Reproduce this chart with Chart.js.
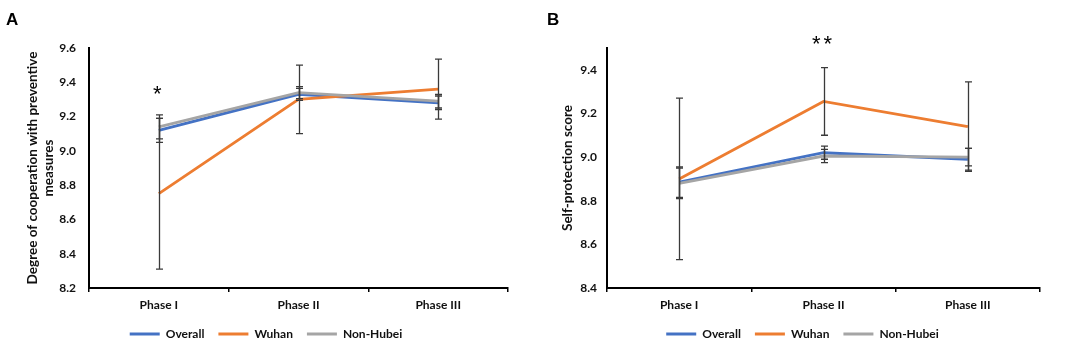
<!DOCTYPE html>
<html><head><meta charset="utf-8">
<script src="https://cdn.jsdelivr.net/npm/chart.js@4"></script>
<style>
html,body{margin:0;padding:0;background:#fff;overflow:hidden;}
#wrap{position:relative;width:1084px;height:343px;overflow:hidden;background:#fff;}
.panel{position:absolute;top:0;height:350px;}
#pa{left:0;width:540px;}
#pb{left:540px;width:544px;}
.lbl{position:absolute;font:bold 17px "Liberation Sans",Arial,sans-serif;color:#000;line-height:1;}
</style></head><body>
<div id="wrap">
<div class="panel" id="pa"><canvas id="ca"></canvas></div>
<div class="panel" id="pb"><canvas id="cb"></canvas></div>
<div class="lbl" style="left:6px;top:11px">A</div>
<div class="lbl" style="left:547px;top:11px">B</div>
</div>
<script>
// ---- data ----
const categories = ['Phase I', 'Phase II', 'Phase III'];
const seriesNames = ['Overall', 'Wuhan', 'Non-Hubei'];

// Panel A: Degree of cooperation with preventive measures
const overallA  = [9.12, 9.33, 9.28];
const wuhanA    = [8.75, 9.30, 9.36];
const nonHubeiA = [9.14, 9.34, 9.29];
const overallErrA  = [0.07, 0.035, 0.04];
const wuhanErrA    = [0.44, 0.20, 0.175];
const nonHubeiErrA = [0.07, 0.035, 0.04];
const yTicksA = [8.2, 8.4, 8.6, 8.8, 9.0, 9.2, 9.4, 9.6];

// Panel B: Self-protection score
const overallB  = [8.885, 9.02, 8.99];
const wuhanB    = [8.90, 9.255, 9.14];
const nonHubeiB = [8.88, 9.005, 9.00];
const overallErrB  = [0.07, 0.03, 0.05];
const wuhanErrB    = [0.37, 0.155, 0.205];
const nonHubeiErrB = [0.07, 0.03, 0.04];
const yTicksB = [8.4, 8.6, 8.8, 9.0, 9.2, 9.4];

// significance marks
const marksA = [{text: '*', index: 0, value: 9.355}];
const marksB = [{text: '**', index: 1, value: 9.537}];

const COLORS = ['#4472C4', '#ED7D31', '#A5A5A5'];
const FONT = {family: 'Lato, "Open Sans", sans-serif', size: 12, weight: 'bold'};
const TITLE_FONT = {family: 'Lato, "Open Sans", sans-serif', size: 13.5, weight: 'bold', lineHeight: 1.24};
const TEXT = '#111';

const errorBarPlugin = {
  id: 'errorBars',
  afterDatasetsDraw(chart, args, opts) {
    const {ctx, scales: {x, y}} = chart;
    ctx.save();
    ctx.strokeStyle = opts.color;
    ctx.lineWidth = opts.width;
    opts.errors.forEach((errs, di) => {
      const ds = chart.data.datasets[di];
      errs.forEach((e, i) => {
        const v = ds.data[i];
        const px = Math.round(x.getPixelForValue(i)) + 0.5;
        const t = y.getPixelForValue(v + e), b = y.getPixelForValue(v - e);
        ctx.beginPath();
        ctx.moveTo(px, t); ctx.lineTo(px, b);
        ctx.moveTo(px - opts.cap, t); ctx.lineTo(px + opts.cap, t);
        ctx.moveTo(px - opts.cap, b); ctx.lineTo(px + opts.cap, b);
        ctx.stroke();
      });
    });
    ctx.fillStyle = '#000';
    ctx.font = '22px "Liberation Sans", Arial, sans-serif';
    ctx.textAlign = 'center';
    ctx.textBaseline = 'middle';
    try { ctx.letterSpacing = '3px'; } catch (e) {}
    opts.marks.forEach(m => {
      ctx.fillText(m.text, x.getPixelForValue(m.index), y.getPixelForValue(m.value) + 5);
    });
    ctx.restore();
  }
};

function makeChart(id, cfg) {
  const data = [cfg.overall, cfg.wuhan, cfg.nonHubei];
  return new Chart(document.getElementById(id), {
    type: 'line',
    data: {
      labels: categories,
      datasets: seriesNames.map((n, i) => ({
        label: n,
        data: data[i],
        borderColor: COLORS[i],
        backgroundColor: COLORS[i],
        borderWidth: 2.8,
        pointRadius: 0,
        tension: 0,
        order: 3 - i
      }))
    },
    plugins: [errorBarPlugin],
    options: {
      responsive: true,
      maintainAspectRatio: false,
      animation: false,
      layout: {padding: {left: cfg.padLeft, right: cfg.padRight, top: 48, bottom: 0}},
      plugins: {
        tooltip: {enabled: false},
        legend: {
          position: 'bottom',
          reverse: true,
          labels: {
            font: FONT, color: TEXT, boxWidth: 30, boxHeight: 3, padding: 14,
            generateLabels: (chart) => Chart.defaults.plugins.legend.labels.generateLabels(chart)
              .map(l => Object.assign(l, {lineWidth: 0, fillStyle: l.strokeStyle}))
          }
        },
        errorBars: {errors: cfg.errors, color: '#3a3a3a', width: 1.3, cap: 3.5, marks: cfg.marks}
      },
      scales: {
        x: {
          type: 'category',
          offset: true,
          grid: {offset: true, drawOnChartArea: false, drawTicks: true, tickLength: 4, color: '#000', lineWidth: 1.5},
          border: {display: true, color: '#000', width: 2},
          ticks: {font: FONT, color: TEXT, padding: 6, maxRotation: 0},
          afterFit: (s) => { s.height = s.chart.height - s.chart.legend.height - 288; }
        },
        y: {
          min: cfg.yMin, max: cfg.yMax,
          grid: {display: false, drawTicks: false},
          border: {display: true, color: '#000', width: 2},
          ticks: {font: FONT, color: TEXT, padding: cfg.tickPad, stepSize: 0.2,
                  callback: (v) => Number(v).toFixed(1)},
          afterBuildTicks: (s) => { s.ticks = cfg.yTicks.map(v => ({value: v})); },
          title: {display: true, text: cfg.title, font: TITLE_FONT,
                  color: TEXT, padding: {top: cfg.titlePad, bottom: 0}},
          afterFit: (s) => { s.width = cfg.yWidth; }
        }
      }
    }
  });
}

makeChart('ca', {
  overall: overallA, wuhan: wuhanA, nonHubei: nonHubeiA,
  errors: [overallErrA, wuhanErrA, nonHubeiErrA],
  yMin: 8.2, yMax: 9.6, yTicks: yTicksA,
  title: ['Degree of cooperation with preventive', 'measures'],
  titlePad: 0, yWidth: 65, padLeft: 24, padRight: 32, tickPad: 13, marks: marksA
});
makeChart('cb', {
  overall: overallB, wuhan: wuhanB, nonHubei: nonHubeiB,
  errors: [overallErrB, wuhanErrB, nonHubeiErrB],
  yMin: 8.4, yMax: 9.5, yTicks: yTicksB,
  title: 'Self-protection score',
  titlePad: -6, yWidth: 42, padLeft: 25, padRight: 44, tickPad: 10, marks: marksB
});
</script>
</body></html>
